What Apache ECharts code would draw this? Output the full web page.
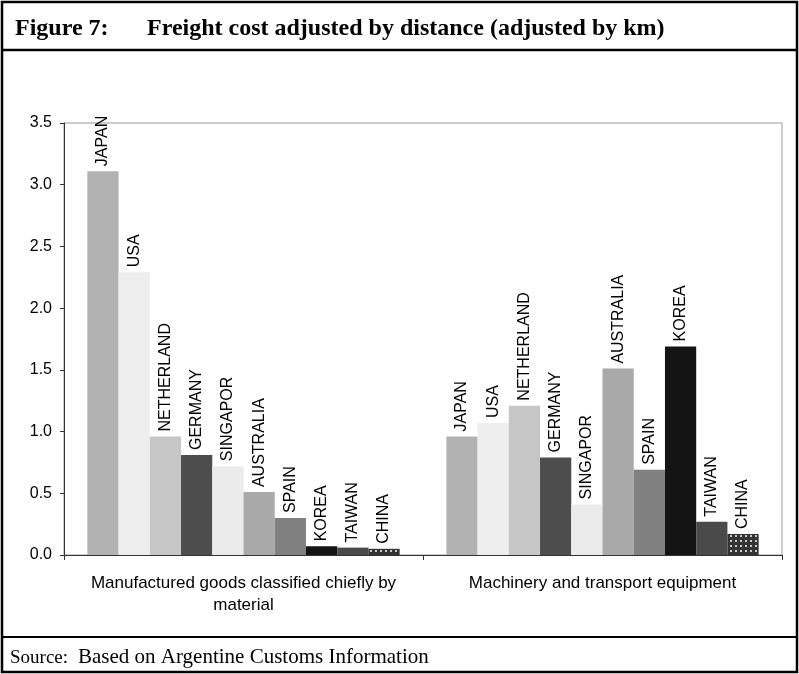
<!DOCTYPE html>
<html>
<head>
<meta charset="utf-8">
<title>Freight cost adjusted by distance</title>
<script src="https://cdn.jsdelivr.net/npm/echarts@6/dist/echarts.min.js"></script>
<style>
  html, body { margin: 0; padding: 0; background: #fff; }
  #chart { width: 799px; height: 674px; }
</style>
</head>
<body>
<div id="chart"></div>
<script>
// categories on the x axis
const categories = [
  "Manufactured goods classified chiefly by\nmaterial",
  "Machinery and transport equipment",
];

// one series per country, in the order they are drawn
const countries = [
  "JAPAN", "USA", "NETHERLANDS", "GERMANY", "SINGAPORE",
  "AUSTRALIA", "SPAIN", "KOREA", "TAIWAN", "CHINA",
];

// values
const manufacturedGoods = [3.11, 2.29, 0.96, 0.81, 0.72, 0.51, 0.30, 0.07, 0.06, 0.05];
const machineryTransport = [0.96, 1.07, 1.21, 0.79, 0.41, 1.51, 0.69, 1.69, 0.27, 0.17];

const yTicks = [0, 0.5, 1.0, 1.5, 2.0, 2.5, 3.0, 3.5];

// bar fills (greys as in the original)
const barColors = [
  "#b2b2b2", "#eeeeee", "#c6c6c6", "#4d4d4d", "#ebebeb",
  "#a9a9a9", "#808080", "#141414", "#4a4a4a", "#333333",
];

// some labels are clipped in the original
const labelWidth = { NETHERLANDS: 112, SINGAPORE: 88 };

const chart = echarts.init(document.getElementById("chart"));

const series = countries.map((name, i) => {
  const s = {
    name: name,
    type: "bar",
    data: [manufacturedGoods[i], machineryTransport[i]],
    barGap: "0%",
    barCategoryGap: "13%",
    itemStyle: { color: barColors[i] },
    label: {
      show: true,
      position: "top",
      rotate: 90,
      align: "left",
      verticalAlign: "middle",
      distance: 5,
      formatter: "{a}",
      fontFamily: "Liberation Sans",
      fontSize: 16,
      color: "#000",
    },
  };
  if (labelWidth[name]) {
    s.label.width = labelWidth[name];
    s.label.overflow = "truncate";
    s.label.ellipsis = "";
  }
  if (name === "CHINA") {
    s.itemStyle.decal = {
      symbol: "rect",
      symbolSize: 1,
      color: "#c8c8c8",
      dashArrayX: [1.5, 2.8],
      dashArrayY: [1.5, 2.6],
    };
  }
  return s;
});

const serif = { fontFamily: "Liberation Serif", color: "#000" };

const option = {
  animation: false,
  backgroundColor: "#fff",
  title: [
    {
      text: "Figure 7:",
      left: 15,
      top: 17,
      padding: 0,
      textStyle: Object.assign({ fontWeight: "bold", fontSize: 24 }, serif),
    },
    {
      text: "Freight cost adjusted by distance (adjusted by km)",
      left: 147,
      top: 17,
      padding: 0,
      textStyle: Object.assign({ fontWeight: "bold", fontSize: 24 }, serif),
    },
    {
      text: "Source:",
      left: 10,
      top: 649,
      padding: 0,
      textStyle: Object.assign({ fontWeight: "normal", fontSize: 19 }, serif),
    },
    {
      text: "Based on Argentine Customs Information",
      left: 78,
      top: 647,
      padding: 0,
      textStyle: Object.assign({ fontWeight: "normal", fontSize: 21 }, serif),
    },
  ],
  grid: {
    left: 64,
    right: 17,
    top: 123,
    bottom: 119,
    show: true,
    borderColor: "#999",
    borderWidth: 1,
  },
  xAxis: {
    type: "category",
    data: categories,
    axisLine: { lineStyle: { color: "#333", width: 1 } },
    axisTick: { show: true, length: 5, lineStyle: { color: "#333" } },
    axisLabel: {
      interval: 0,
      margin: 17,
      fontFamily: "Liberation Sans",
      fontSize: 17,
      lineHeight: 22,
      color: "#000",
    },
  },
  yAxis: {
    type: "value",
    min: yTicks[0],
    max: yTicks[yTicks.length - 1],
    interval: 0.5,
    axisLine: { show: true, lineStyle: { color: "#333", width: 1 } },
    axisTick: { show: true, length: 4, lineStyle: { color: "#333" } },
    splitLine: { show: false },
    axisLabel: {
      margin: 12,
      fontFamily: "Liberation Sans",
      fontSize: 16,
      color: "#000",
      formatter: (v) => v.toFixed(1),
    },
  },
  series: series,
  graphic: [
    {
      type: "rect",
      shape: { x: 2, y: 2, width: 795, height: 670 },
      style: { fill: null, stroke: "#000", lineWidth: 2.5 },
      silent: true,
    },
    {
      type: "line",
      shape: { x1: 2, y1: 50, x2: 797, y2: 50 },
      style: { stroke: "#000", lineWidth: 2.5 },
      silent: true,
    },
    {
      type: "line",
      shape: { x1: 2, y1: 637, x2: 797, y2: 637 },
      style: { stroke: "#000", lineWidth: 2 },
      silent: true,
    },
  ],
};

chart.setOption(option);
</script>
</body>
</html>
